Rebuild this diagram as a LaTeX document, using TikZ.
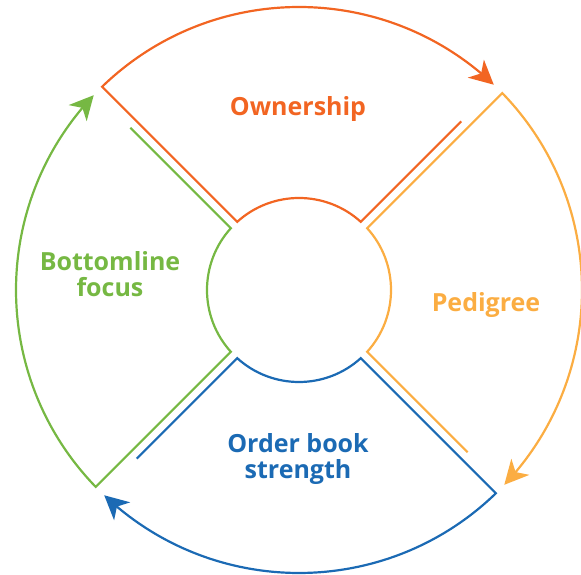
\documentclass[tikz,border=0pt]{standalone}
\usepackage{fontspec}
\setmainfont{Open Sans}
\usetikzlibrary{arrows.meta,bending,calc}
\definecolor{cown}{HTML}{F26522}
\definecolor{cped}{HTML}{FBAD42}
\definecolor{cord}{HTML}{1B6AB4}
\definecolor{cbot}{HTML}{76B843}
\def\sgD{4.5}
\def\sgRi{92}
\def\sgRo{283}
\def\sgTi{91.89}
\def\sgTo{282.96}
\def\sgTs{233.96}
\def\sgAi{2.80}
\def\sgAo{0.91}
\newcommand\drawsegment[2]{%
  \draw[seg,#2]
    ($(O)+(#1+45:\sgD pt)+(#1-45:\sgTs pt)$) --
    ($(O)+(#1+45:\sgD pt)+(#1-45:\sgTi pt)$)
    arc[start angle={#1-45+\sgAi}, end angle={#1+45-\sgAi}, radius=\sgRi pt] --
    ($(O)+(#1-45:\sgD pt)+(#1+45:\sgTo pt)$)
    arc[start angle={#1+45-\sgAo}, end angle={#1-43.5}, radius=\sgRo pt];
}
\begin{document}
\begin{tikzpicture}[x=1pt,y=1pt,
  seg/.style={line width=2.2pt, line join=miter,
    -{Stealth[length=24pt,width=24pt,inset=7pt]}},
  lbl/.style={font=\bfseries\fontsize{25}{26}\selectfont, align=center, inner sep=0pt}]
\useasboundingbox (0,0) rectangle (581,575);
\coordinate (O) at (299,285);
\drawsegment{90}{cown}
\drawsegment{0}{cped}
\drawsegment{-90}{cord}
\drawsegment{180}{cbot}
\node[lbl, text=cown, anchor=base] (own) at (298,459) {Ownership};
\node[lbl, text=cped, anchor=base] (ped) at (486,263) {Pedigree};
\node[lbl, text=cbot, anchor=base] (bot) at (110,278) {Bottomline\\focus};
\node[lbl, text=cord, anchor=base] (ord) at (298,96) {Order book\\strength};
\end{tikzpicture}
\end{document}
